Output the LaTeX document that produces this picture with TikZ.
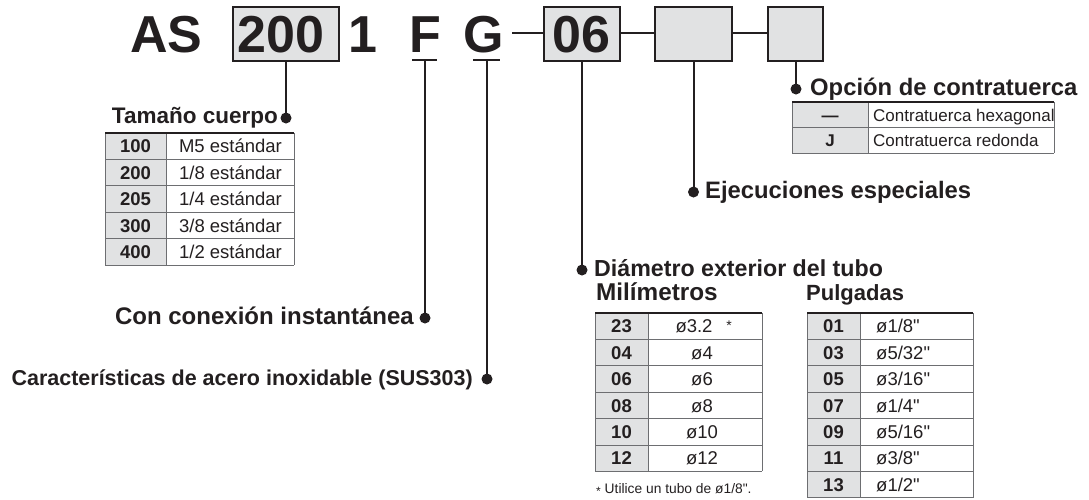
\documentclass[tikz,border=0pt]{standalone}
\usepackage{fontspec}
\setmainfont{Liberation Sans}[Ligatures=TeXOff]
\definecolor{ink}{HTML}{231F20}
\definecolor{cellgray}{HTML}{E1E2E3}
\definecolor{rulegray}{HTML}{6D6E71}
\tikzset{
  code/.style={font=\fontsize{52}{52}\selectfont\bfseries, text=ink, inner sep=0pt, anchor=base},
  codebox/.style={draw=ink, line width=2pt, fill=cellgray, inner sep=0pt},
  link/.style={draw=ink, line width=2pt},
  dot/.style={circle, fill=ink, inner sep=0pt, minimum size=11pt},
  head/.style={text=ink, inner sep=0pt},
  cell/.style={font=\fontsize{18.5}{18.5}\selectfont, text=ink, inner sep=0pt, anchor=base},
  cellb/.style={cell, font=\fontsize{18.5}{18.5}\selectfont\bfseries},
  smallcell/.style={cell, font=\fontsize{17}{17}\selectfont},
  smallcellb/.style={cell, font=\fontsize{17}{17}\selectfont\bfseries},
  gridline/.style={draw=rulegray, line width=0.9pt},
  topline/.style={draw=ink, line width=1.8pt},
}
% grid of a two-column table: left, divider, right, top, rows, row height
\newcommand\tablegrid[6]{%
  \fill[cellgray] (#1,#4) rectangle (#2,{#4+#5*#6});
  \foreach \k in {1,...,#5} {\draw[gridline] (#1,{#4+\k*#6}) -- (#3,{#4+\k*#6});}
  \draw[gridline] (#1,#4) -- (#1,{#4+#5*#6});
  \draw[gridline] (#2,#4) -- (#2,{#4+#5*#6});
  \draw[gridline] (#3,#4) -- (#3,{#4+#5*#6});
  \draw[topline] (#1,#4) -- (#3,#4);
}
\begin{document}
\begin{tikzpicture}[x=1pt,y=-1pt]
\useasboundingbox (0,0) rectangle (1089,499);

% ---- code line ----
\node[code] (as) at (166.5,52) {AS};
\node[codebox, minimum width=106pt, minimum height=54pt] (b200) at (286,34) {};
\node[code] (t200) at (281,52) {200};
\node[code] (one) at (362.5,52) {1};
\node[code] (f) at (425,52) {F};
\node[code] (g) at (484,52) {G};
\node[codebox, minimum width=76pt, minimum height=54pt] (b06) at (582,34) {};
\node[code] (t06) at (581.5,52) {06};
\node[codebox, minimum width=77pt, minimum height=54pt] (b3) at (693.5,34) {};
\node[codebox, minimum width=55pt, minimum height=54pt] (b4) at (795.5,34) {};

\coordinate (uF) at (425,60);
\coordinate (uG) at (487,60);
\coordinate (dash) at (512,33);
\draw[link] (412,60) -- (437,60);
\draw[link] (473,60) -- (500,60);
\draw[link] (dash) -- (b06.west |- dash);
\draw[link] (b06.east |- dash) -- (b3.west |- dash);
\draw[link] (b3.east |- dash) -- (b4.west |- dash);

% ---- dots ----
\node[dot] (d200) at (286,118) {};
\node[dot] (dF) at (425,318) {};
\node[dot] (dG) at (487,379) {};
\node[dot] (d06) at (582,270) {};
\node[dot] (d3) at (693.5,192) {};
\node[dot] (d4) at (796,89) {};

\draw[link] (b200.south) -- (d200.center);
\draw[link] (uF) -- (dF.center);
\draw[link] (uG) -- (dG.center);
\draw[link] (b06.south) -- (d06.center);
\draw[link] (b3.south) -- (d3.center);
\draw[link] (b4.south -| d4) -- (d4.center);

% ---- headings ----
\node[head, font=\fontsize{22.5}{22.5}\selectfont\bfseries, anchor=base east] (h200) at (278,123) {Tamaño cuerpo};
\node[head, font=\fontsize{24}{24}\selectfont\bfseries, anchor=base east] (hF) at (414,324) {Con conexión instantánea};
\node[head, font=\fontsize{21.5}{21.5}\selectfont\bfseries, anchor=base east] (hG) at (473,385) {Características de acero inoxidable (SUS303)};
\node[head, font=\fontsize{23.2}{23.2}\selectfont\bfseries, anchor=base west] (h06) at (594,276) {Diámetro exterior del tubo};
\node[head, font=\fontsize{24.3}{24.3}\selectfont\bfseries, anchor=base west] (hmm) at (596,300) {Milímetros};
\node[head, font=\fontsize{22}{22}\selectfont\bfseries, anchor=base west] (hin) at (806,300) {Pulgadas};
\node[head, font=\fontsize{23.8}{23.8}\selectfont\bfseries, anchor=base west] (h3) at (705,198) {Ejecuciones especiales};
\node[head, font=\fontsize{23.8}{23.8}\selectfont\bfseries, anchor=base west] (h4) at (810,95) {Opción de contratuerca};

% ---- table: body size ----
\tablegrid{105}{166}{294}{133}{5}{26.4}
\foreach \c/\d [count=\i from 0] in {100/{M5 estándar},200/{1/8 estándar},205/{1/4 estándar},300/{3/8 estándar},400/{1/2 estándar}}{
  \node[cellb] (s\i) at (135.5,{133+\i*26.4+19.8}) {\c};
  \node[cell] (sd\i) at (230.5,{133+\i*26.4+19.8}) {\d};
}

% ---- table: lock nut ----
\tablegrid{792}{868}{1054}{102}{2}{25.5}
\node[smallcellb] (n0) at (830,121) {—};
\node[smallcell, anchor=base west] (nd0) at (873,121) {Contratuerca hexagonal};
\node[smallcellb] (n1) at (830,146.5) {J};
\node[smallcell, anchor=base west] (nd1) at (873,146.5) {Contratuerca redonda};

% ---- table: millimetres ----
\tablegrid{595}{648}{762}{313}{6}{26.4}
\foreach \c [count=\i from 0] in {23,04,06,08,10,12}{
  \node[cellb] (m\i) at (621.5,{313+\i*26.4+19.8}) {\c};
}
\node[cell] (md0) at (694,332.8) {ø3.2};
\node[cell, font=\fontsize{14}{14}\selectfont] (mstar) at (729,330) {*};
\foreach \d [count=\i from 1] in {ø4,ø6,ø8,ø10,ø12}{
  \node[cell] (md\i) at (702,{313+\i*26.4+19.8}) {\d};
}
\node[cell, anchor=base west, font=\fontsize{13.8}{13.8}\selectfont] (note) at (596,493) {{\fontsize{12}{12}\selectfont\raisebox{-2pt}{*}} Utilice un tubo de ø1/8".};

% ---- table: inches ----
\tablegrid{807}{860}{973}{313}{7}{26.4}
\foreach \c/\d [count=\i from 0] in {01/{ø1/8"},03/{ø5/32"},05/{ø3/16"},07/{ø1/4"},09/{ø5/16"},11/{ø3/8"},13/{ø1/2"}}{
  \node[cellb] (p\i) at (833.5,{313+\i*26.4+19.8}) {\c};
  \node[cell, anchor=base west] (pd\i) at (876,{313+\i*26.4+19.8}) {\d};
}
\end{tikzpicture}
\end{document}
